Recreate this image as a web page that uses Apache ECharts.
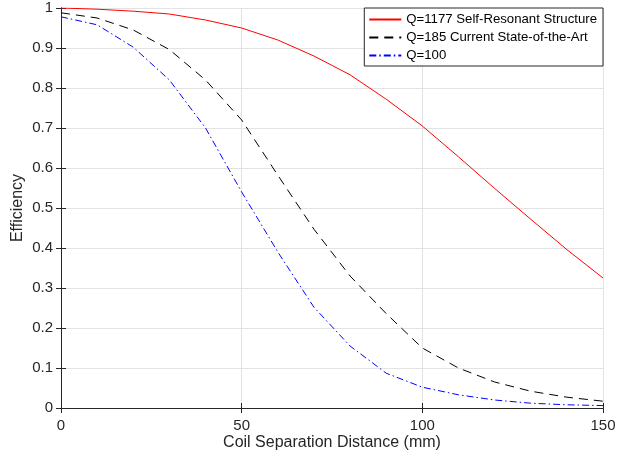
<!DOCTYPE html>
<html>
<head>
<meta charset="utf-8">
<script src="https://cdn.jsdelivr.net/npm/echarts@6/dist/echarts.min.js"></script>
<style>
  html, body { margin: 0; padding: 0; background: #fff; }
  #chart { width: 632px; height: 458px; }
</style>
</head>
<body>
<div id="chart"></div>
<script>
// distances in mm, sampled every 10 mm
var distance = [0, 10, 20, 30, 40, 50, 60, 70, 80, 90, 100, 110, 120, 130, 140, 150];

// efficiency values
var effQ1177 = [1.0, 0.997, 0.992, 0.985, 0.970, 0.950, 0.920, 0.880, 0.833, 0.772, 0.705, 0.628, 0.549, 0.472, 0.396, 0.325];
var effQ185  = [0.988, 0.975, 0.945, 0.896, 0.820, 0.720, 0.582, 0.447, 0.330, 0.236, 0.150, 0.100, 0.065, 0.042, 0.027, 0.017];
var effQ100  = [0.978, 0.958, 0.902, 0.820, 0.700, 0.540, 0.390, 0.252, 0.155, 0.087, 0.052, 0.033, 0.020, 0.012, 0.008, 0.006];

var seriesNames = ["Q=1177 Self-Resonant Structure", "Q=185 Current State-of-the-Art", "Q=100"];

function pairs(ys) {
    return distance.map(function (d, i) { return [d, ys[i]]; });
}

var axisColor = "#262626";
var gridColor = "#e3e3e3";
var font = "Liberation Sans";

var chart = echarts.init(document.getElementById("chart"));

var option = {
    animation: false,
    textStyle: { fontFamily: font },
    grid: { left: 61, right: 29, top: 8, bottom: 50, containLabel: false, outerBoundsMode: "none" },
    legend: {
        orient: "vertical",
        right: 29,
        top: 8,
        backgroundColor: "#fff",
        borderColor: axisColor,
        borderWidth: 1,
        borderRadius: 0,
        padding: [5, 6, 4, 4],
        itemGap: 5,
        itemWidth: 32,
        itemHeight: 14,
        itemStyle: { opacity: 0 },
        textStyle: { fontFamily: font, fontSize: 13.2, color: "#000", padding: [0, 0, 0, 0] },
        data: seriesNames
    },
    xAxis: [{
        type: "value",
        min: 0, max: 150, interval: 50,
        name: "Coil Separation Distance (mm)",
        nameLocation: "middle",
        nameGap: 27,
        nameMoveOverlap: false,
        nameTextStyle: { fontSize: 16, color: axisColor },
        axisLine: { show: true, lineStyle: { color: axisColor, width: 1 } },
        axisTick: { inside: true, length: 5, lineStyle: { color: axisColor } },
        axisLabel: { fontSize: 15, color: axisColor, margin: 10 },
        splitLine: { show: true, lineStyle: { color: gridColor, width: 1 } }
    }, {
        type: "value",
        position: "top",
        min: 0, max: 150, interval: 50,
        axisLine: { show: true, lineStyle: { color: axisColor, width: 1 } },
        axisTick: { inside: true, length: 5, lineStyle: { color: axisColor } },
        axisLabel: { show: false },
        splitLine: { show: false }
    }],
    yAxis: [{
        type: "value",
        min: 0, max: 1, interval: 0.1,
        name: "Efficiency",
        nameLocation: "middle",
        nameGap: 35,
        nameMoveOverlap: false,
        nameTextStyle: { fontSize: 16, color: axisColor },
        axisLine: { show: true, lineStyle: { color: axisColor, width: 1 } },
        axisTick: { inside: true, length: 5, lineStyle: { color: axisColor } },
        axisLabel: { fontSize: 15, color: axisColor, margin: 8 },
        splitLine: { show: true, lineStyle: { color: gridColor, width: 1 } }
    }, {
        type: "value",
        position: "right",
        min: 0, max: 1, interval: 0.1,
        axisLine: { show: true, lineStyle: { color: axisColor, width: 1 } },
        axisTick: { inside: true, length: 5, lineStyle: { color: axisColor } },
        axisLabel: { show: false },
        splitLine: { show: false }
    }],
    series: [{
        name: seriesNames[0],
        type: "line",
        symbol: "none",
        data: pairs(effQ1177),
        lineStyle: { color: "#ff0000", width: 1 },
        itemStyle: { color: "#ff0000" }
    }, {
        name: seriesNames[1],
        type: "line",
        symbol: "none",
        data: pairs(effQ185),
        lineStyle: { color: "#000000", width: 1, type: [9, 6] },
        itemStyle: { color: "#000000" }
    }, {
        name: seriesNames[2],
        type: "line",
        symbol: "none",
        data: pairs(effQ100),
        lineStyle: { color: "#0000ff", width: 1, type: [7, 3, 1.5, 3] },
        itemStyle: { color: "#0000ff" }
    }]
};

chart.setOption(option);
</script>
</body>
</html>
